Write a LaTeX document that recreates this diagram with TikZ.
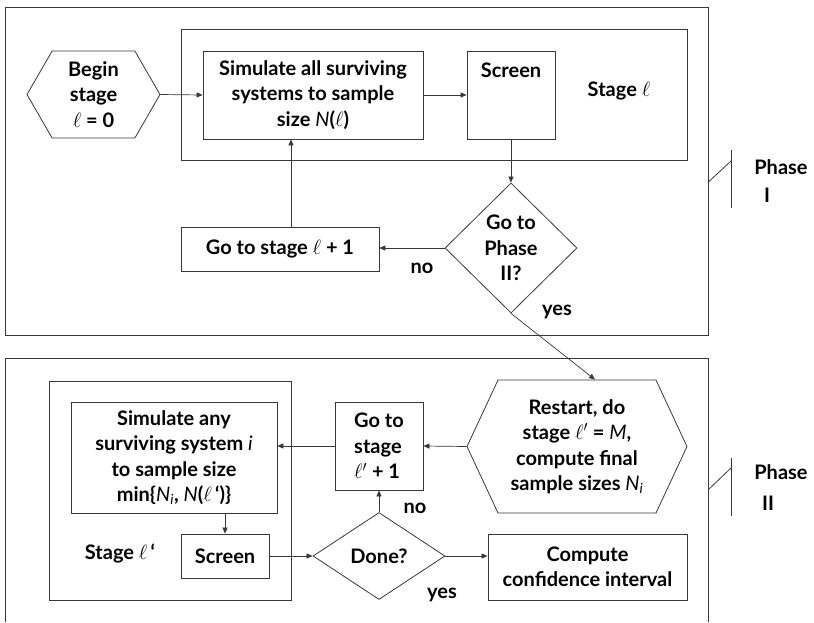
\documentclass[tikz,border=0pt]{standalone}
\usepackage{fontspec}
\setmainfont{Lato}
\usetikzlibrary{arrows.meta,shapes.geometric,shapes.symbols,calc}
\colorlet{ln}{black!78}
\tikzset{
  box/.style={draw=ln, line width=0.8pt, rectangle, inner sep=0pt, align=center},
  hexa/.style={draw=ln, line width=0.8pt, signal, signal to=west and east, inner sep=0pt, align=center},
  dec/.style={draw=ln, line width=0.8pt, diamond, inner sep=0pt, align=center},
  arr/.style={draw=ln, line width=0.7pt, -{Triangle[length=6pt,width=5pt]}},
  wire/.style={draw=ln, line width=0.8pt},
  lbl/.style={inner sep=0pt, align=center},
}
\newcommand\el{\ensuremath{\ell}}
\newcommand\ital[1]{{\mdseries\itshape #1}}
\begin{document}
\begin{tikzpicture}[x=1pt, y=-1pt, font=\fontsize{20}{25.5}\selectfont\bfseries]
\useasboundingbox (0,0) rectangle (814,622);

% ---------- Phase I ----------
\node[box, minimum width=703pt, minimum height=328pt] (ph1) at (356.5,171) {};
\node[box, minimum width=506pt, minimum height=131pt] (st1) at (434,94.5) {};
\node[hexa, minimum width=133pt, minimum height=87pt, signal pointer angle=120] (begin) at (93.5,94.5) {Begin\\stage\\\el{} = 0};
\node[box, minimum width=220pt, minimum height=88pt] (sim1) at (313,95) {Simulate all surviving\\systems to sample\\size \ital{N}(\el)};
\node[box, minimum width=88pt, minimum height=88pt] (scr1) at (511,95) {};
\node[lbl] (scr1t) at (511,70) {Screen};
\node[lbl] (stg1) at (619,91) {Stage \el};
\node[dec, minimum width=132pt, minimum height=130pt] (go2) at (511,248) {Go to\\Phase\\II?};
\node[box, minimum width=198pt, minimum height=44pt] (gos1) at (280,249) {Go to stage \el{} + 1};
\node[lbl] (no1) at (422,268) {no};
\node[lbl] (yes1) at (557,312) {yes};

\draw[arr] (begin.east) -- (sim1.west);
\draw[arr] (sim1.east) -- (scr1.west);
\draw[arr] (scr1.south) -- (go2.north);
\draw[arr] (go2.west) -- (go2.west -| gos1.east);
\draw[arr] ([xshift=11pt]gos1.north) -- ([xshift=11pt]gos1.north |- sim1.south);

% phase I marker
\coordinate (m1a) at (731,150);
\coordinate (m1b) at (731,208);
\coordinate (m1c) at (731,161);
\draw[wire] (m1a) -- (m1b);
\draw[wire] ([yshift=-11pt]ph1.east) -- (m1c);
\node[lbl] (ph1a) at (781,167) {Phase};
\node[lbl] (ph1b) at (767,195) {I};

% ---------- Phase II ----------
\coordinate (f1) at (5,622);
\coordinate (f2) at (5,358);
\coordinate (f3) at (708,358);
\coordinate (f4) at (708,622);
\draw[wire] (f1) -- (f2) -- (f3) -- (f4);

\node[box, minimum width=242pt, minimum height=219pt] (st2) at (170,490.5) {};
\node[box, minimum width=206pt, minimum height=111pt] (sim2) at (174,457.5) {Simulate any\\surviving system \ital{i}\\to sample size\\min\{\ital{N\textsubscript{i}}, \ital{N}(\el\,`)\}};
\node[box, minimum width=88pt, minimum height=44pt] (scr2) at (225,556) {Screen};
\node[lbl] (stg2) at (120,553) {Stage \el\,`};
\node[dec, minimum width=132pt, minimum height=87pt] (done) at (379,556) {Done?};
\node[box, minimum width=88pt, minimum height=88pt, align=left] (gos2) at (379,446) {Go to\\stage\\\el$'$ + 1};
\node[hexa, minimum width=220pt, minimum height=133pt, signal pointer angle=130] (rest) at (577,446.5) {Restart, do\\stage \el$'$ = \ital{M},\\compute final\\sample sizes \ital{N\textsubscript{i}}};
\node[box, minimum width=199pt, minimum height=66pt] (conf) at (587.5,567) {Compute\\confidence interval};
\node[lbl] (no2) at (415,508) {no};
\node[lbl] (yes2) at (442,595) {yes};

\draw[arr] (go2.south) -- ([xshift=18pt]rest.north);
\draw[arr] (rest.west) -- (gos2.east);
\draw[arr] (gos2.west) -- (gos2.west -| sim2.east);
\draw[arr] (scr2.north |- sim2.south) -- (scr2.north);
\draw[arr] (scr2.east) -- (done.west);
\draw[arr] (done.north) -- (gos2.south);
\draw[arr] (done.east) -- (done.east -| conf.west);

% phase II marker
\coordinate (m2a) at (731,458);
\coordinate (m2b) at (731,516);
\coordinate (m2c) at (731,468);
\coordinate (m2d) at (708,490);
\draw[wire] (m2a) -- (m2b);
\draw[wire] (m2d) -- (m2c);
\node[lbl] (ph2a) at (781,472) {Phase};
\node[lbl] (ph2b) at (768,503) {II};
\end{tikzpicture}
\end{document}
